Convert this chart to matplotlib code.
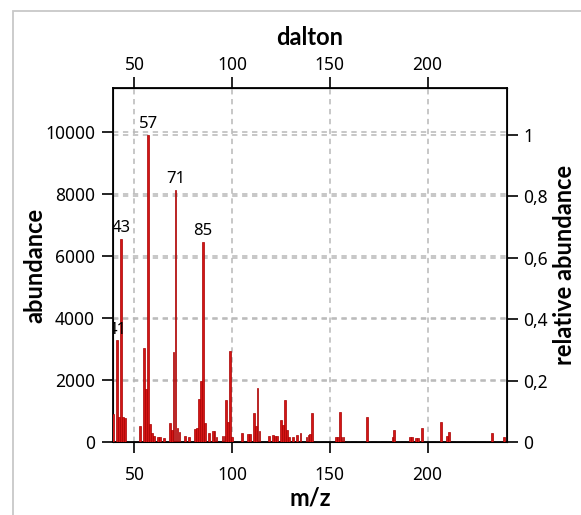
import matplotlib
matplotlib.use("Agg")
import matplotlib.pyplot as plt
from matplotlib.patches import Rectangle

plt.rcParams['font.family'] = ['Noto Sans', 'DejaVu Sans']

# mass spectrum: m/z and abundance
mz = [39, 41, 42, 43, 44, 45,
      53, 55, 56, 57, 58, 59, 60, 62, 63, 65,
      68, 69, 70, 71, 72, 73, 76, 78,
      81, 82, 83, 84, 85, 86, 88, 90, 91, 92, 95, 96, 97, 98, 99, 100,
      105, 108, 109, 111, 112, 113, 114, 119, 121, 122, 123,
      125, 126, 127, 128, 129, 131, 133, 135, 138, 139, 140, 141,
      153, 154, 155, 156, 157, 169, 182, 183,
      191, 192, 194, 195, 197, 207, 210, 211, 233, 239]
abundance = [900, 3270, 790, 6530, 800, 780,
             520, 3040, 1720, 9900, 580, 300, 200, 170, 150, 130,
             620, 400, 2890, 8120, 460, 320, 200, 150,
             420, 450, 1390, 1970, 6440, 620, 300, 340, 370, 150, 200, 200, 1360, 650, 2940, 150,
             300, 250, 250, 950, 500, 1740, 360, 200, 220, 200, 200,
             710, 560, 1350, 400, 150, 170, 240, 300, 170, 220, 270, 950,
             160, 160, 980, 170, 150, 820, 150, 390,
             160, 160, 140, 140, 450, 660, 200, 320, 300, 160]
labelled = [41, 43, 57, 71, 85]

x_ticks = [50, 100, 150, 200]
y_ticks = [0, 2000, 4000, 6000, 8000, 10000]
rel_ticks = [0, 0.2, 0.4, 0.6, 0.8, 1.0]
rel_labels = ["0", "0,2", "0,4", "0,6", "0,8", "1"]

base_peak = max(abundance)
y_top = 11400
grid_kw = dict(color="#b8b8b8", linestyle=(0, (3.5, 3)), linewidth=1.1)
tick_fs = 12.5
label_kw = dict(fontsize=17, fontweight="bold", family=["Lato", "DejaVu Sans"])

fig = plt.figure(figsize=(5.81, 5.15), dpi=100)
fig.add_artist(Rectangle((13 / 581, -0.1), 1.2, (504 / 515) + 0.1,
                         transform=fig.transFigure, fill=False,
                         edgecolor="#c8c8c8", linewidth=1.3))
ax = fig.add_axes([0.1945, 0.1417, 0.678, 0.6873])

ax.bar(mz, abundance, width=0.9, color="#d41515", edgecolor="#a80000",
       linewidth=0.5, zorder=3)
for m, a in zip(mz, abundance):
    if m in labelled:
        ax.text(m, a + 90, str(m), ha="center", va="bottom",
                fontsize=tick_fs - 0.5, clip_on=True, zorder=4)

ax.set_xlim(39.0, 240.6)
ax.set_ylim(0, y_top)
ax.set_xticks(x_ticks)
ax.set_yticks(y_ticks)
ax.grid(True, **grid_kw)
ax.set_axisbelow(True)
ax.tick_params(axis="y", direction="out", length=8, width=1.2,
               labelsize=tick_fs, pad=5)
ax.tick_params(axis="x", direction="out", length=8, width=1.2,
               labelsize=tick_fs, pad=9)
ax.set_xlabel("m/z", labelpad=2, **label_kw)
ax.set_ylabel("abundance", **label_kw)
ax.yaxis.set_label_coords(-0.168, 0.5)
for s in ax.spines.values():
    s.set_linewidth(1.3)

# relative scale on the right, normalised to the base peak
ax2 = ax.twinx()
ax2.set_ylim(0, y_top / base_peak)
ax2.set_yticks(rel_ticks)
ax2.set_yticklabels(rel_labels)
ax2.yaxis.grid(True, **grid_kw)
ax2.set_zorder(-1)
ax.patch.set_visible(False)
ax2.tick_params(direction="out", length=8, width=1.2, labelsize=tick_fs, pad=4)
ax2.set_ylabel("relative abundance", **label_kw)
ax2.yaxis.set_label_coords(1.116, 0.5)

# dalton scale on top
top = ax.secondary_xaxis("top")
top.set_xticks(x_ticks)
top.tick_params(direction="out", length=8, width=1.2, labelsize=tick_fs, pad=2)
top.set_xlabel("dalton", labelpad=8, **label_kw)

fig.savefig("out.png", dpi=100)
